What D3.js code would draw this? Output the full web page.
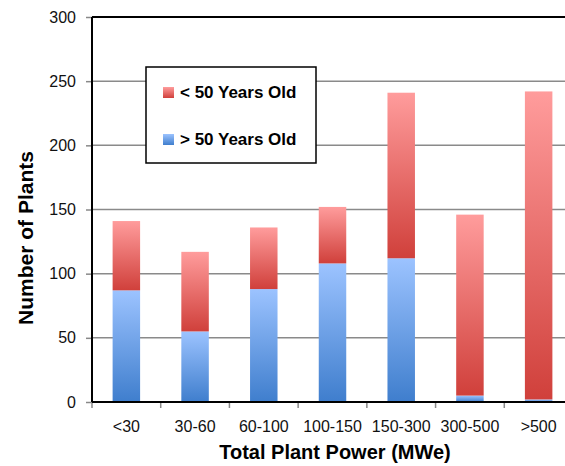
<!DOCTYPE html>
<html>
<head>
<meta charset="utf-8">
<script src="https://cdn.jsdelivr.net/npm/d3@7"></script>
<style>
  body { margin: 0; background: #fff; }
  svg { display: block; font-family: "Liberation Sans", Arial, sans-serif; }
</style>
</head>
<body>
<div id="chart"></div>
<script>
const categories = ["<30", "30-60", "60-100", "100-150", "150-300", "300-500", ">500"];
const over50 = [87, 55, 88, 108, 112, 5, 2];
const under50 = [54, 62, 48, 44, 129, 141, 240];
const yTicks = [0, 50, 100, 150, 200, 250, 300];

const width = 565, height = 466;
const margin = { top: 17, right: -8, bottom: 64, left: 92 };
const innerWidth = width - margin.left - margin.right;
const innerHeight = height - margin.top - margin.bottom;
// the plot runs a little past the right edge of the picture
const visibleRight = width - margin.left;

const svg = d3.select("#chart").append("svg")
    .attr("width", width)
    .attr("height", height);

// gradients
const defs = svg.append("defs");
function grad(id, top, bottom) {
    const lg = defs.append("linearGradient")
        .attr("id", id)
        .attr("x1", 0).attr("y1", 0).attr("x2", 0).attr("y2", 1);
    lg.append("stop").attr("offset", "0%").attr("stop-color", top);
    lg.append("stop").attr("offset", "100%").attr("stop-color", bottom);
}
grad("gRed", "#ff9c9c", "#d0403b");
grad("gBlue", "#9cc3ff", "#3f7ecd");

const g = svg.append("g")
    .attr("transform", `translate(${margin.left}, ${margin.top})`);

const x = d3.scaleBand()
    .domain(categories)
    .range([0, innerWidth])
    .paddingInner(0.6)
    .paddingOuter(0.3);

const y = d3.scaleLinear()
    .domain([0, 300])
    .range([innerHeight, 0]);

// gridlines + y ticks
const yAxis = g.append("g")
    .call(d3.axisLeft(y).tickValues(yTicks).tickSize(6).tickPadding(10));
yAxis.select(".domain").remove();
yAxis.selectAll(".tick line").attr("stroke", "#888").attr("stroke-width", 1.5);
yAxis.selectAll(".tick text")
    .attr("font-size", 16).attr("fill", "#111");

g.append("g")
    .selectAll("line")
    .data(yTicks.filter(d => d > 0 && d < 300))
    .join("line")
    .attr("x1", 0).attr("x2", visibleRight)
    .attr("y1", d => y(d)).attr("y2", d => y(d))
    .attr("stroke", "#8a8a8a").attr("stroke-width", 1.5);

// stacked bars
const rows = categories.map((c, i) => ({ cat: c, over: over50[i], under: under50[i] }));

g.append("g").selectAll("rect")
    .data(rows)
    .join("rect")
    .attr("x", d => x(d.cat))
    .attr("width", x.bandwidth())
    .attr("y", d => y(d.over))
    .attr("height", d => y(0) - y(d.over))
    .attr("fill", "url(#gBlue)");

g.append("g").selectAll("rect")
    .data(rows)
    .join("rect")
    .attr("x", d => x(d.cat))
    .attr("width", x.bandwidth())
    .attr("y", d => y(d.over + d.under))
    .attr("height", d => y(d.over) - y(d.over + d.under))
    .attr("fill", "url(#gRed)");

// x axis labels
const xAxis = g.append("g")
    .attr("transform", `translate(0, ${innerHeight})`)
    .call(d3.axisBottom(x).tickSize(0).tickPadding(18));
xAxis.select(".domain").remove();
xAxis.selectAll(".tick text")
    .attr("dy", null)
    .attr("y", 30)
    .attr("font-size", 16).attr("fill", "#111");

// x tick marks at band boundaries
const step = x.step();
g.append("g").selectAll("line")
    .data(d3.range(categories.length + 1).filter(i => i * step <= visibleRight))
    .join("line")
    .attr("x1", i => i * step).attr("x2", i => i * step)
    .attr("y1", innerHeight).attr("y2", innerHeight + 6)
    .attr("stroke", "#888").attr("stroke-width", 1.5);

// frame lines
g.append("line")
    .attr("x1", 0).attr("x2", visibleRight).attr("y1", 0).attr("y2", 0)
    .attr("stroke", "#000").attr("stroke-width", 2);
g.append("line")
    .attr("x1", 0).attr("x2", 0).attr("y1", 0).attr("y2", innerHeight)
    .attr("stroke", "#000").attr("stroke-width", 2);
g.append("line")
    .attr("x1", 0).attr("x2", visibleRight).attr("y1", innerHeight).attr("y2", innerHeight)
    .attr("stroke", "#000").attr("stroke-width", 2);

// axis titles
svg.append("text")
    .attr("x", 335).attr("y", 459)
    .attr("text-anchor", "middle")
    .attr("font-size", 20).attr("font-weight", "bold")
    .text("Total Plant Power (MWe)");

svg.append("text")
    .attr("transform", "translate(33, 238) rotate(-90)")
    .attr("text-anchor", "middle")
    .attr("font-size", 21).attr("font-weight", "bold")
    .text("Number of Plants");

// legend
const legend = svg.append("g").attr("transform", "translate(146, 67)");
legend.append("rect")
    .attr("width", 170).attr("height", 96)
    .attr("fill", "#fff").attr("stroke", "#000").attr("stroke-width", 1.5);

const legendItems = [
    { label: "< 50 Years Old", fill: "url(#gRed)" },
    { label: "> 50 Years Old", fill: "url(#gBlue)" }
];
const li = legend.selectAll(".item")
    .data(legendItems)
    .join("g")
    .attr("class", "item")
    .attr("transform", (d, i) => `translate(17, ${25 + i * 47})`);
li.append("rect")
    .attr("y", -5).attr("width", 11).attr("height", 11)
    .attr("fill", d => d.fill);
li.append("text")
    .attr("x", 17).attr("dy", "0.36em")
    .attr("font-size", 17).attr("font-weight", "bold")
    .text(d => d.label);
</script>
</body>
</html>
